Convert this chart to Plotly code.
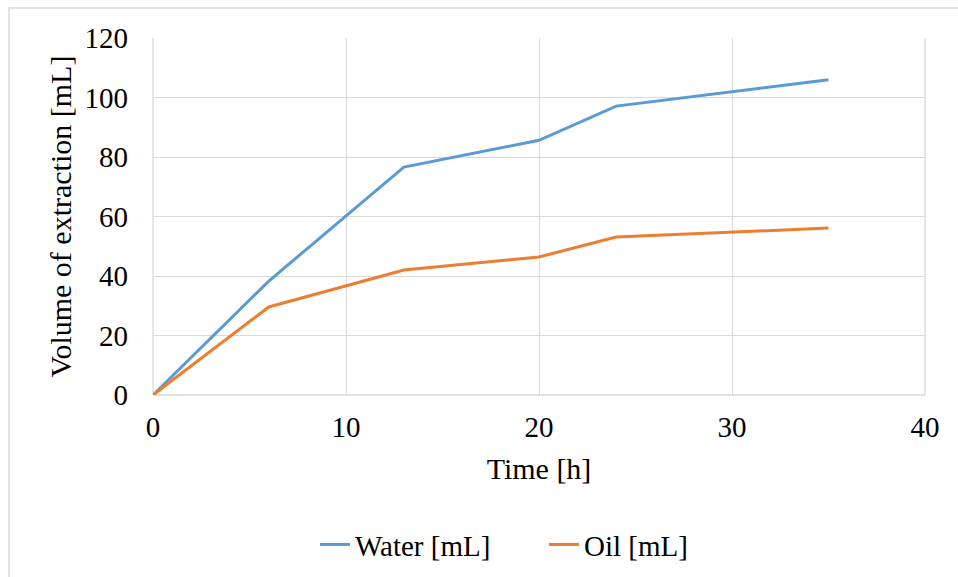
import plotly.graph_objects as go

# Extraction volumes over time
time_h = [0, 6, 13, 20, 24, 35]
water_ml = [0, 38.3, 76.6, 85.6, 97.1, 106.0]
oil_ml = [0, 29.6, 42.0, 46.4, 53.1, 56.1]

x_ticks = [0, 10, 20, 30, 40]
y_ticks = [0, 20, 40, 60, 80, 100, 120]

FONT = "Liberation Serif, Times New Roman, serif"
TICK_SIZE = 29
TITLE_SIZE = 30
LEGEND_SIZE = 29

fig = go.Figure()
fig.add_trace(go.Scatter(x=time_h, y=water_ml, mode="lines", name="Water [mL]",
                         line=dict(color="#5b9bd5", width=3)))
fig.add_trace(go.Scatter(x=time_h, y=oil_ml, mode="lines", name="Oil [mL]",
                         line=dict(color="#ed7d31", width=3)))

L, R, T, B = 153, 33, 38, 182
W, H = 958, 577
pw, ph = W - L - R, H - T - B

# Outer chart-area frame
fig.add_shape(type="rect", xref="paper", yref="paper",
              x0=(9 - L) / pw, x1=(W + 5 - L) / pw,
              y0=-(H + 5 - T - ph) / ph, y1=(H - B - 8) / ph,
              line=dict(color="#d9d9d9", width=1.5), layer="below")

fig.update_layout(
    width=W, height=H,
    margin=dict(l=L, r=R, t=T, b=B, autoexpand=False),
    paper_bgcolor="white", plot_bgcolor="white",
    font=dict(family=FONT, size=TICK_SIZE, color="black"),
    showlegend=True,
    legend=dict(orientation="h", x=(315 - L) / pw, xanchor="left", y=-0.419, yanchor="middle",
                font=dict(family=FONT, size=LEGEND_SIZE),
                entrywidth=184, entrywidthmode="pixels"),
    xaxis=dict(range=[0, 40], tickvals=x_ticks, showgrid=True, gridcolor="#d9d9d9",
               gridwidth=1.3, zeroline=False, showline=False, ticks="", automargin=False,
               tickfont=dict(family=FONT, size=TICK_SIZE), ticklabelstandoff=12,
               title=dict(text="Time [h]", font=dict(family=FONT, size=TITLE_SIZE), standoff=15)),
    yaxis=dict(range=[0, 120], tickvals=y_ticks, showgrid=True, gridcolor="#d9d9d9",
               gridwidth=1.3, zeroline=False, showline=False, ticks="", automargin=False,
               tickfont=dict(family=FONT, size=TICK_SIZE), ticklabelstandoff=24,
               title=dict(text="Volume of extraction [mL]", font=dict(family=FONT, size=TITLE_SIZE),
                          standoff=4)),
)
# Outer edges of the grid
fig.add_shape(type="line", xref="paper", yref="paper", x0=1, x1=1, y0=0, y1=1,
              line=dict(color="#d9d9d9", width=1.3), layer="below")
fig.add_shape(type="line", xref="paper", yref="paper", x0=0, x1=0, y0=0, y1=1,
              line=dict(color="#d9d9d9", width=1.3), layer="below")
fig.add_shape(type="line", xref="paper", yref="paper", x0=0, x1=1, y0=0, y1=0,
              line=dict(color="#d9d9d9", width=1.3), layer="below")

fig.write_html("out.html")
